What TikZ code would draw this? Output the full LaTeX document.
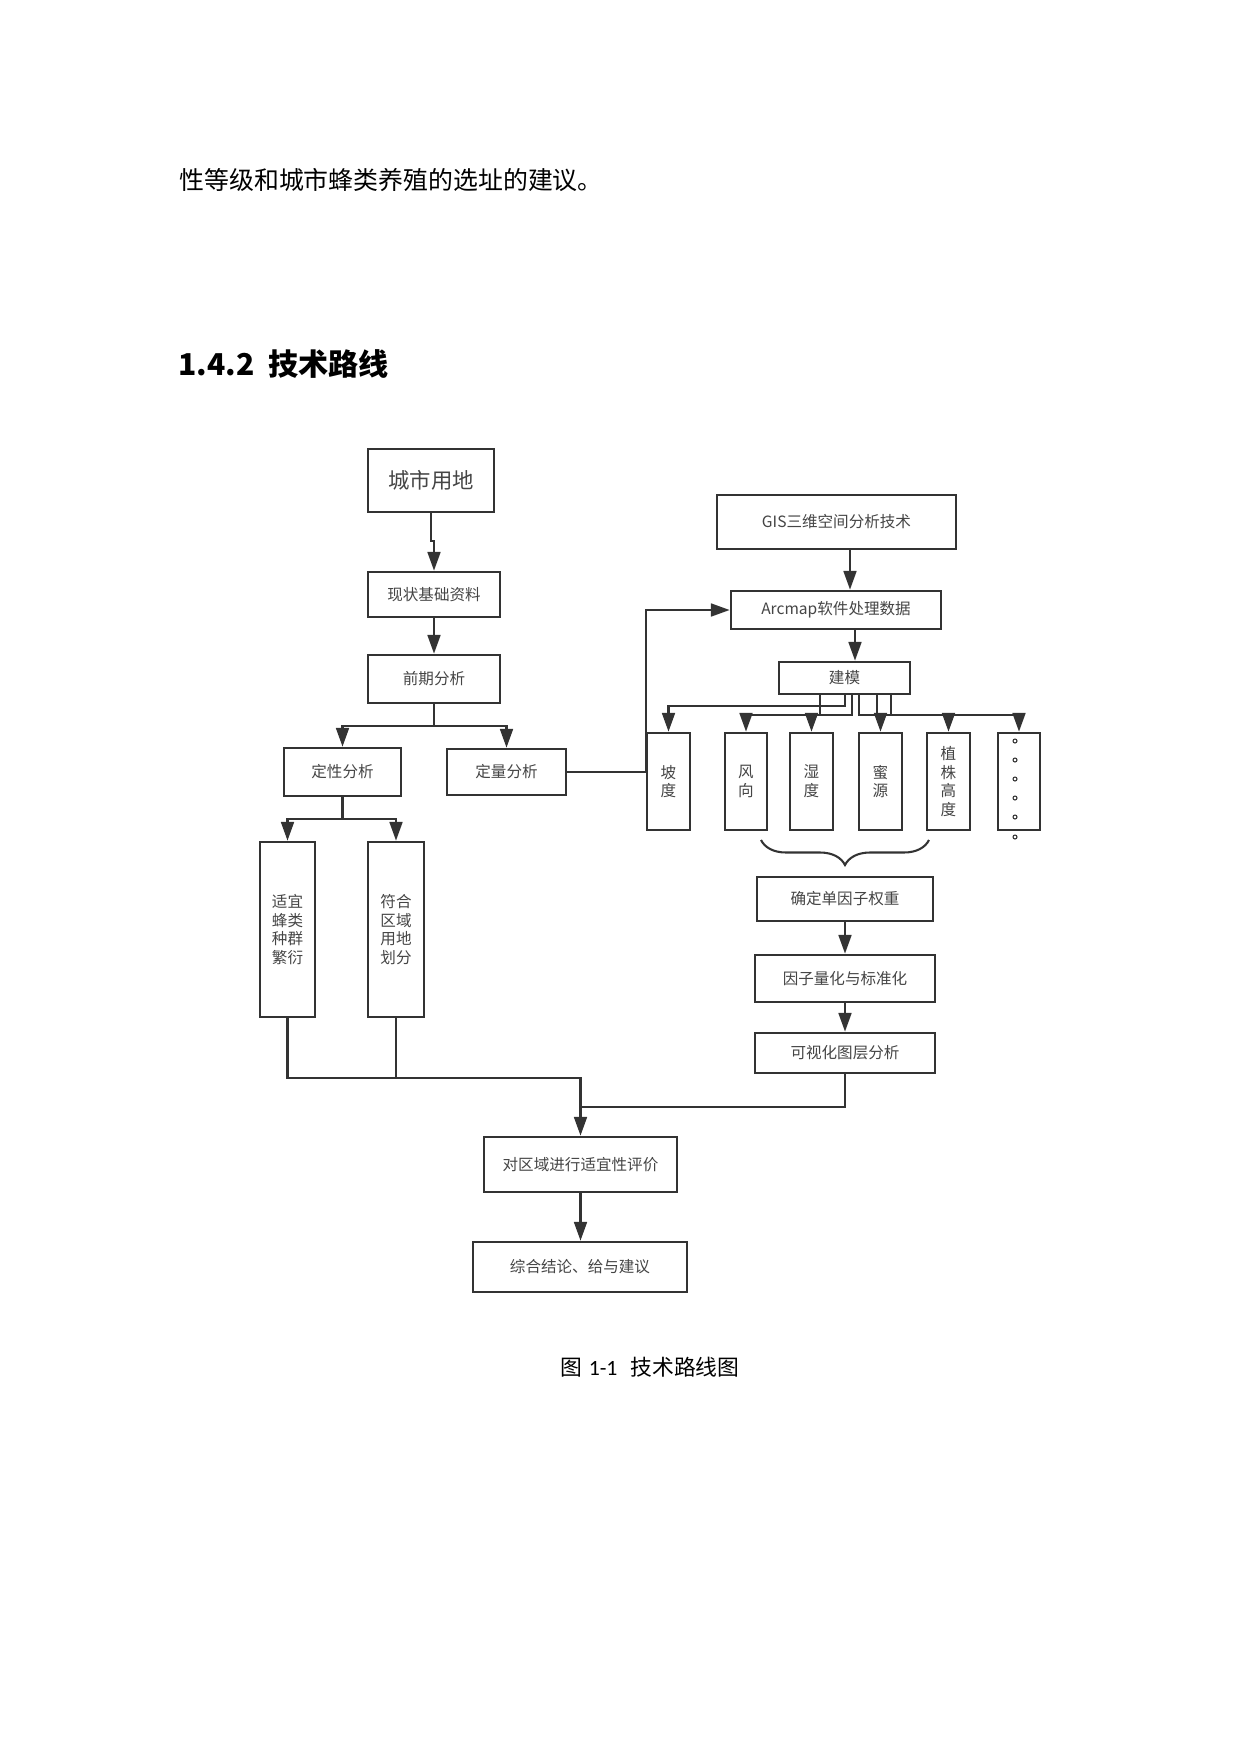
\documentclass[tikz,border=0pt]{standalone}
\usepackage{fontspec}
\setmainfont{Carlito}
\newfontfamily\cjk{Noto Sans CJK SC}
\usetikzlibrary{arrows.meta,decorations.pathreplacing}
\newlength{\unitpx}
\setlength{\unitpx}{0.16935mm}
\definecolor{linegray}{HTML}{333333}
\definecolor{textgray}{HTML}{454545}

\begin{document}
\begin{tikzpicture}[x=\unitpx, y=-\unitpx]
    \tikzstyle{every node}=[inner sep=0pt, font=\cjk\fontsize{7.5pt}{9pt}\selectfont, text=textgray]
    \tikzstyle{box}=[draw=linegray, line width=1.3pt, fill=white, align=center]
    \tikzstyle{edge}=[linegray, line width=1pt]
    \tikzstyle{arrow}=[edge, -{Triangle[length=9pt, width=6.2pt]}]

    \useasboundingbox (0,0) rectangle (1240,1754);

    \node[anchor=west, text=black, font=\cjk\fontsize{12pt}{14pt}\selectfont] (intro) at (179,180) {性等级和城市蜂类养殖的选址的建议。};
    \node[anchor=west, text=black, font=\cjk\bfseries\fontsize{14.5pt}{17pt}\selectfont] (head) at (178,364) {1.4.2\ \ 技术路线};

    \node[box, minimum width=126\unitpx, minimum height=63\unitpx, font=\cjk\fontsize{10.3pt}{12pt}\selectfont] (cs) at (431,480.5) {城市用地};
    \node[box, minimum width=132\unitpx, minimum height=45\unitpx] (xz) at (434,594.5) {现状基础资料};
    \node[box, minimum width=132\unitpx, minimum height=48\unitpx] (qq) at (434,679) {前期分析};
    \node[box, minimum width=117\unitpx, minimum height=48\unitpx] (dx) at (342.5,772) {定性分析};
    \node[box, minimum width=119\unitpx, minimum height=46\unitpx] (dl) at (506.5,772) {定量分析};
    \node[box, minimum width=55\unitpx, minimum height=175\unitpx] (sy) at (287.5,929.5) {适宜\\蜂类\\种群\\繁衍};
    \node[box, minimum width=56\unitpx, minimum height=175\unitpx] (fh) at (396,929.5) {符合\\区域\\用地\\划分};

    \node[box, minimum width=239\unitpx, minimum height=54\unitpx] (gis) at (836.5,522) {GIS三维空间分析技术};
    \node[box, minimum width=210\unitpx, minimum height=38\unitpx] (arc) at (836,610) {Arcmap软件处理数据};
    \node[box, minimum width=131\unitpx, minimum height=32\unitpx] (jm) at (844.5,678) {建模};

    \node[box, minimum width=43\unitpx, minimum height=97\unitpx] (pd) at (668.5,781.5) {坡\\度};
    \node[box, minimum width=42\unitpx, minimum height=97\unitpx] (fx) at (746,781.5) {风\\向};
    \node[box, minimum width=43\unitpx, minimum height=97\unitpx] (sd) at (811.5,781.5) {湿\\度};
    \node[box, minimum width=43\unitpx, minimum height=97\unitpx] (my) at (880.5,781.5) {蜜\\源};
    \node[box, minimum width=43\unitpx, minimum height=97\unitpx] (zz) at (948.5,781.5) {植\\株\\高\\度};
    \node[box, minimum width=42\unitpx, minimum height=97\unitpx] (dd) at (1019,781.5) {};
    \foreach \y in {741,760,779,798,817,837}
        \draw[linegray, line width=0.5pt] (1015,\y) circle[radius=2\unitpx];

    \node[box, minimum width=176\unitpx, minimum height=44\unitpx] (qd) at (845,899) {确定单因子权重};
    \node[box, minimum width=180\unitpx, minimum height=47\unitpx] (lh) at (845,978.5) {因子量化与标准化};
    \node[box, minimum width=180\unitpx, minimum height=40\unitpx] (ks) at (845,1053) {可视化图层分析};

    \node[box, minimum width=193\unitpx, minimum height=55\unitpx] (pj) at (580.5,1164.5) {对区域进行适宜性评价};
    \node[box, minimum width=214\unitpx, minimum height=50\unitpx] (zh) at (580,1267) {综合结论、给与建议};

    \node[text=black, font=\fontsize{10.5pt}{12pt}\selectfont] (cap) at (650,1367) {{\cjk 图}\hspace{0.3em}1-1\hspace{0.6em}{\cjk 技术路线图}};

    \draw[arrow] (cs.south) -- ++(0,28) -| (xz.north);
    \draw[arrow] (xz) -- (qq);
    \draw[arrow] (qq.south) -- ++(0,22) -| (dx.north);
    \draw[arrow] (qq.south) -- ++(0,22) -| (dl.north);
    \draw[arrow] (dx.south) -- ++(0,22) -| (sy.north);
    \draw[arrow] (dx.south) -- ++(0,22) -| (fh.north);

    \coordinate (g1) at ([xshift=13.5\unitpx]gis.south);
    \coordinate (a1) at ([xshift=19\unitpx]arc.south);
    \draw[arrow] (g1) -- (g1 |- arc.north);
    \draw[arrow] (a1) -- (a1 |- jm.north);
    \draw[arrow] (dl.east) -- (dl.east -| pd.west) |- (arc.west);

    \draw[arrow] ([xshift=0.5\unitpx]jm.south) -- ++(0,11) -| (pd.north);
    \draw[arrow] ([xshift=-24.5\unitpx]jm.south) -- ++(0,20) -| (fx.north);
    \draw[arrow] ([xshift=7.5\unitpx]jm.south) -- ++(0,20) -| (sd.north);
    \draw[arrow] ([xshift=32.5\unitpx]jm.south) -- ++(0,20) -| (my.north);
    \draw[arrow] ([xshift=46.5\unitpx]jm.south) -- ++(0,20) -| (zz.north);
    \draw[arrow] ([xshift=14.5\unitpx]jm.south) -- ++(0,20) -| (dd.north);

    \coordinate (br1) at (761,840);
    \coordinate (br2) at (929,840);
    \draw[edge, decorate, decoration={brace, amplitude=25\unitpx, mirror}] (br1) -- (br2);

    \draw[arrow] (qd) -- (lh);
    \draw[arrow] (lh) -- (ks);

    \draw[arrow] (sy.south) -- ++(0,60) -| (pj.north);
    \draw[edge] (fh.south) -- ++(0,60);
    \draw[edge] (ks.south) -- ++(0,33) coordinate (k1) -- (k1 -| pj.north);
    \draw[arrow] (pj.south) -- (pj.south |- zh.north);
\end{tikzpicture}
\end{document}
